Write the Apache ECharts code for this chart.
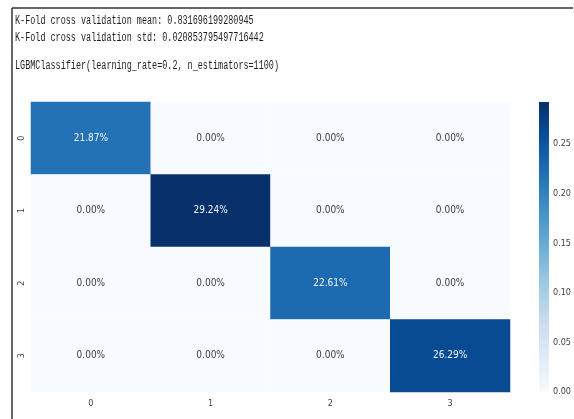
<!DOCTYPE html>
<html>
<head>
<meta charset="utf-8">
<script src="https://cdn.jsdelivr.net/npm/echarts@6/dist/echarts.min.js"></script>
<style>
  html, body { margin: 0; padding: 0; background: #fff; }
  #chart { width: 574px; height: 419px; }
</style>
</head>
<body>
<div id="chart"></div>
<script>
// Confusion matrix (row = true class, column = predicted class), as fractions of all samples
const classLabels = ['0', '1', '2', '3'];
const row0 = [0.2187, 0.0000, 0.0000, 0.0000];
const row1 = [0.0000, 0.2924, 0.0000, 0.0000];
const row2 = [0.0000, 0.0000, 0.2261, 0.0000];
const row3 = [0.0000, 0.0000, 0.0000, 0.2629];
const matrixRows = [row0, row1, row2, row3];

// Console output printed above the plot
const consoleLines = [
  'K-Fold cross validation mean: 0.831696199280945',
  'K-Fold cross validation std: 0.020853795497716442',
  'LGBMClassifier(learning_rate=0.2, n_estimators=1100)'
];

// Colorbar tick step
const colorbarStep = 0.05;

// matplotlib "Blues" colormap
const blues = ['#f7fbff', '#deebf7', '#c6dbef', '#9ecae1', '#6baed6',
               '#4292c6', '#2171b5', '#08519c', '#08306b'];

const allValues = matrixRows.flat();
const vMax = Math.max(...allValues);
const vMin = 0;

const heatData = [];
matrixRows.forEach((row, r) => {
  row.forEach((v, c) => {
    heatData.push({
      value: [c, r, v],
      label: { color: v > (vMax * 0.5) ? '#eef3fa' : '#3c3c3c' }
    });
  });
});

const narrow = '"Liberation Sans Narrow", "Arial Narrow", "DejaVu Sans Condensed", "Liberation Sans", sans-serif';

const chart = echarts.init(document.getElementById('chart'), null, { renderer: 'canvas' });

const gradientStops = blues.map((c, i) => ({ offset: i / (blues.length - 1), color: c }));

chart.setOption({
  animation: false,
  backgroundColor: '#ffffff',
  grid: [
    { left: 31, top: 102, width: 479, height: 290 },
    { left: 539, top: 102, width: 10, height: 290 }
  ],
  xAxis: [
    {
      type: 'category', gridIndex: 0, data: classLabels,
      axisLine: { show: false }, axisTick: { show: false }, splitLine: { show: false },
      axisLabel: { margin: 7, fontSize: 9, color: '#444', fontFamily: narrow }
    },
    {
      type: 'category', gridIndex: 1, data: ['cb'], show: false
    }
  ],
  yAxis: [
    {
      type: 'category', gridIndex: 0, data: classLabels, inverse: true,
      axisLine: { show: false }, axisTick: { show: false }, splitLine: { show: false },
      axisLabel: { rotate: 90, margin: 5, fontSize: 9, color: '#444', fontFamily: narrow }
    },
    {
      type: 'value', gridIndex: 1, position: 'right',
      min: vMin, max: vMax, interval: colorbarStep,
      axisLine: { show: false }, axisTick: { show: false }, splitLine: { show: false },
      axisLabel: {
        margin: 4, fontSize: 9, color: '#444', fontFamily: narrow,
        showMaxLabel: false,
        formatter: v => v.toFixed(2)
      }
    }
  ],
  visualMap: {
    show: false,
    type: 'continuous',
    seriesIndex: 0,
    dimension: 2,
    min: vMin,
    max: vMax,
    inRange: { color: blues }
  },
  graphic: [
    { type: 'line', shape: { x1: 12, y1: 8, x2: 573, y2: 8 }, style: { stroke: '#333', lineWidth: 1.5 } },
    { type: 'line', shape: { x1: 12, y1: 8, x2: 12, y2: 419 }, style: { stroke: '#333', lineWidth: 1.5 } },
    ...consoleLines.map((t, i) => ({
      type: 'text',
      x: 15, y: [21, 38, 66][i],
      scaleX: 0.705,
      style: {
        text: t,
        fontSize: 12,
        fontFamily: '"Liberation Mono", "DejaVu Sans Mono", monospace',
        fill: '#1e1e1e',
        verticalAlign: 'middle'
      }
    }))
  ],
  series: [
    {
      type: 'heatmap',
      xAxisIndex: 0, yAxisIndex: 0,
      data: heatData,
      label: {
        show: true,
        fontSize: 10,
        fontFamily: narrow,
        formatter: p => (p.value[2] * 100).toFixed(2) + '%'
      },
      itemStyle: { borderWidth: 0 },
      emphasis: { disabled: true }
    },
    {
      type: 'bar',
      xAxisIndex: 1, yAxisIndex: 1,
      data: [vMax],
      barWidth: '100%',
      silent: true,
      itemStyle: {
        color: new echarts.graphic.LinearGradient(0, 1, 0, 0, gradientStops)
      }
    }
  ]
});
</script>
</body>
</html>
